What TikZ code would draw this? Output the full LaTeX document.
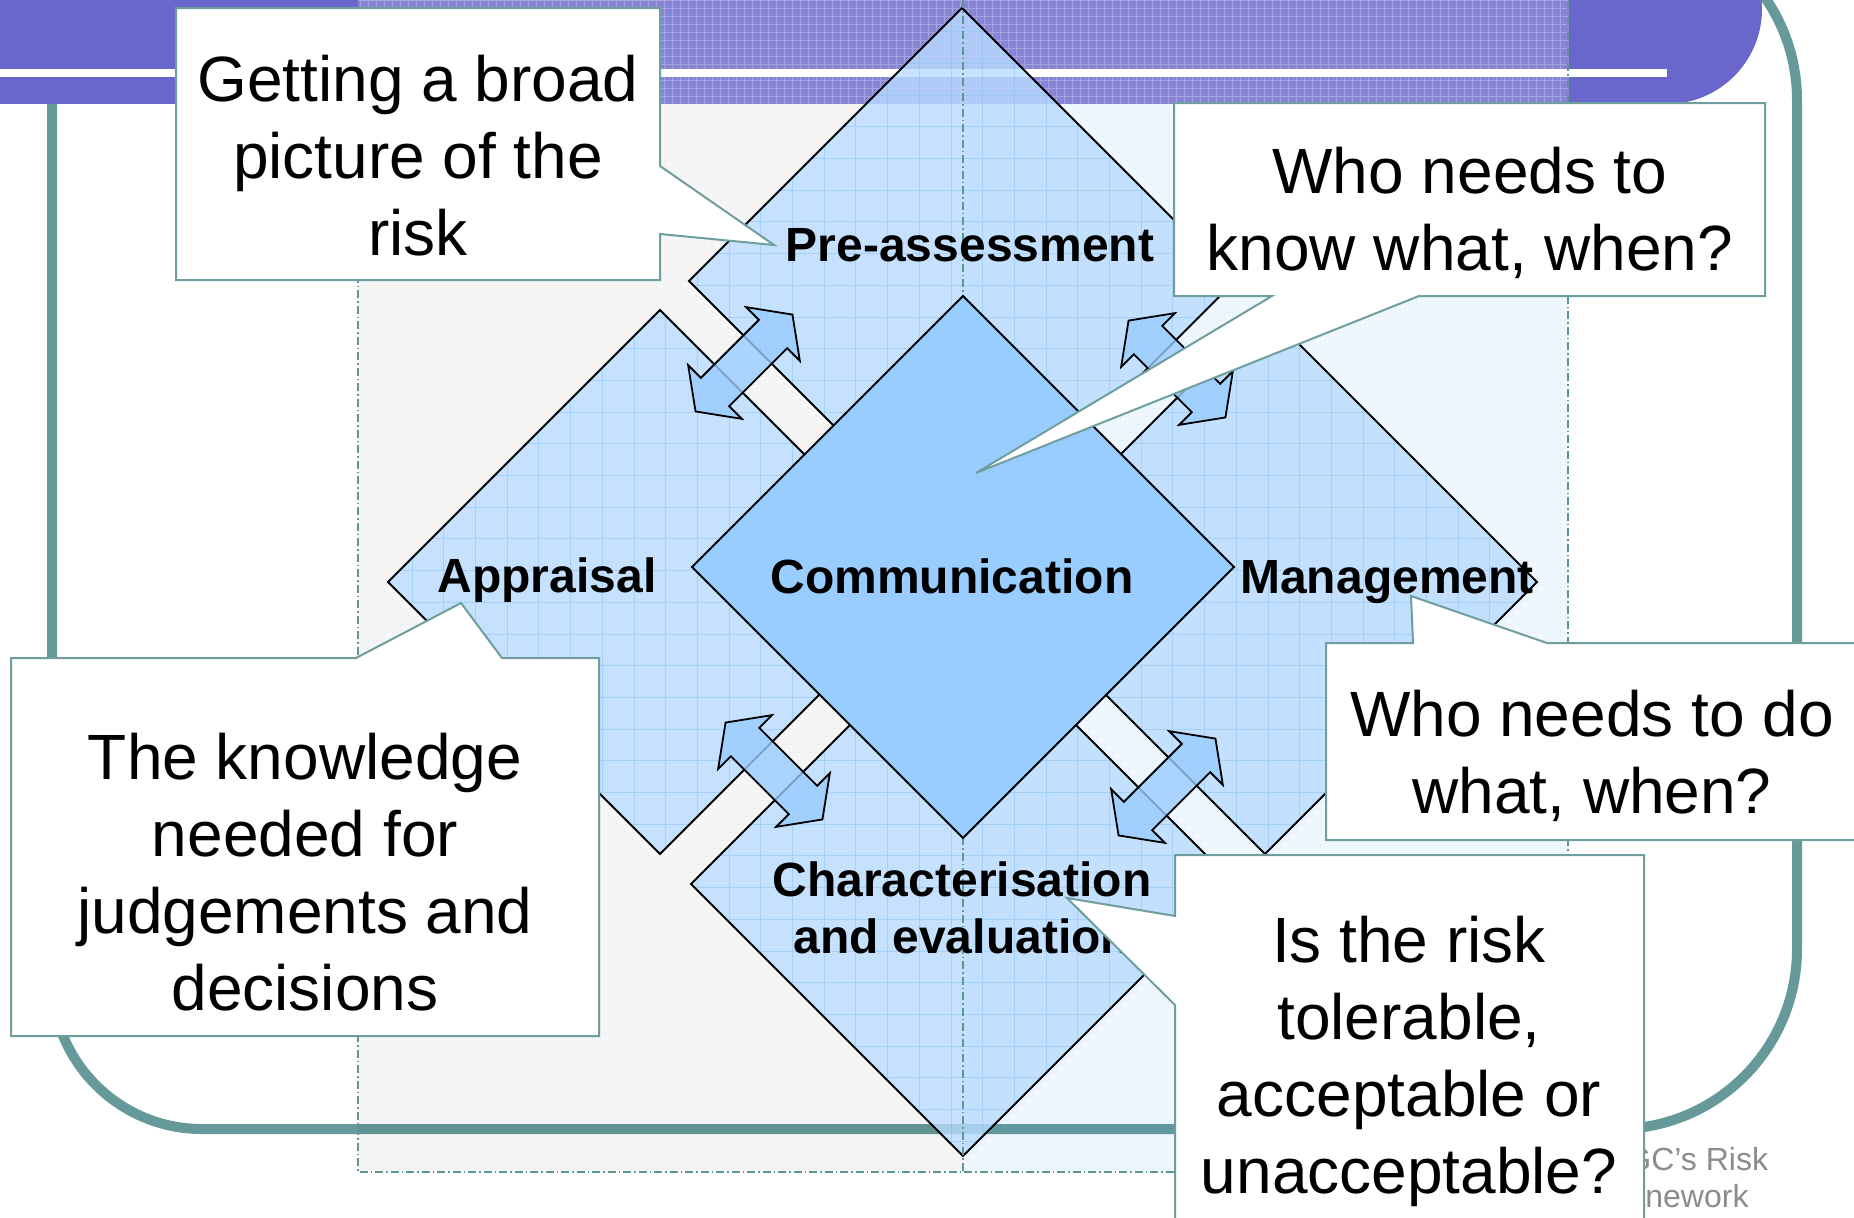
\documentclass[tikz,border=0pt]{standalone}
\usepackage{fontspec}
\setmainfont{Liberation Sans}
\definecolor{purp}{HTML}{6967CB}
\definecolor{frameteal}{HTML}{669999}
\definecolor{cborder}{HTML}{6E9E9E}
\definecolor{dblue}{HTML}{B9DCFF}
\definecolor{cblue}{HTML}{99CCFF}
\definecolor{gridblue}{HTML}{7FBDF5}
\definecolor{dashc}{HTML}{5E9696}
\definecolor{tintblue}{HTML}{3399FF}
\definecolor{graytext}{HTML}{8C8C8C}
\newcommand\blockarrow[2]{%
  \path[arrowsty, shift={(#1)}, rotate=#2]
    (68.5,0) -- (41,38) -- (41,20) -- (-41,20) -- (-41,38) -- (-68.5,0)
    -- (-41,-38) -- (-41,-20) -- (41,-20) -- (41,-38) -- cycle;}
\begin{document}
\begin{tikzpicture}[x=0.5pt,y=0.5pt,
  diamondsty/.style={fill=dblue, fill opacity=0.8},
  dedge/.style={draw=black, line width=1pt, line join=miter},
  dgrid/.style={draw=gridblue, draw opacity=0.45, line width=0.5pt},
  dashsty/.style={draw=dashc, line width=0.6pt, dash pattern=on 4pt off 1.5pt on 0.75pt off 1.5pt},
  arrowsty/.style={fill=cblue, fill opacity=0.8, draw=black, line width=0.9pt, line join=miter},
  callbox/.style={fill=white, draw=cborder, line width=1pt, line join=miter},
  calltxt/.style={inner sep=0pt, align=center, anchor=north, font=\fontsize{32}{38.4}\selectfont},
  lbl/.style={inner sep=0pt, font=\fontsize{24}{28.7}\selectfont\bfseries},
  graytxt/.style={inner sep=0pt, text=graytext, anchor=base west, font=\fontsize{16}{18}\selectfont}
]
\useasboundingbox (0,0) rectangle (1854,-1217);
\clip (0,0) rectangle (1854,-1217);
\fill[white] (0,0) rectangle (1854,-1217);

% teal rounded frame
\draw[frameteal, line width=5pt] (52,60) -- (52,-979)
  arc[start angle=180, end angle=270, radius=75pt] -- (1617,-1129)
  arc[start angle=270, end angle=360, radius=90pt] -- (1797,-100)
  arc[start angle=0, end angle=90, radius=90pt] -- (52,80);

% purple title band
\fill[purp] (0,5) rectangle (1667,-104);
\fill[purp] (1667,-9) circle[radius=47.5pt];
\fill[white] (0,-69) rectangle (1667,-77);

% light grid region
\fill[white, opacity=0.2] (358,5) rectangle (1568,-104);
\draw[white, opacity=0.25, line width=0.3pt, step=8] (358,0) grid (1568,-104);
\fill[black, opacity=0.035] (358,-104) rectangle (963,-1172);
\fill[tintblue, opacity=0.08] (963,-104) rectangle (1568,-1172);
\draw[black, opacity=0.02, line width=0.3pt, step=8] (358,-104) grid (1568,-1172);

% outer diamonds
\path[diamondsty] (962,-8) -- (1235,-281) -- (962,-554) -- (689,-281) -- cycle;
\path[diamondsty] (660,-310) -- (932,-582) -- (660,-854) -- (388,-582) -- cycle;
\path[diamondsty] (1265,-310) -- (1537,-582) -- (1265,-854) -- (993,-582) -- cycle;
\path[diamondsty] (963,-612) -- (1235,-884) -- (963,-1156) -- (691,-884) -- cycle;
\begin{scope}
  \clip (962,-8) -- (1235,-281) -- (962,-554) -- (689,-281) -- cycle;
  \draw[dgrid, step=31.7] (358,0) grid (1568,-1172);
\end{scope}
\begin{scope}
  \clip (660,-310) -- (932,-582) -- (660,-854) -- (388,-582) -- cycle;
  \draw[dgrid, step=31.7] (358,0) grid (1568,-1172);
\end{scope}
\begin{scope}
  \clip (1265,-310) -- (1537,-582) -- (1265,-854) -- (993,-582) -- cycle;
  \draw[dgrid, step=31.7] (358,0) grid (1568,-1172);
\end{scope}
\begin{scope}
  \clip (963,-612) -- (1235,-884) -- (963,-1156) -- (691,-884) -- cycle;
  \draw[dgrid, step=31.7] (358,0) grid (1568,-1172);
\end{scope}
\draw[dedge] (962,-8) -- (1235,-281) -- (962,-554) -- (689,-281) -- cycle;
\draw[dedge] (660,-310) -- (932,-582) -- (660,-854) -- (388,-582) -- cycle;
\draw[dedge] (1265,-310) -- (1537,-582) -- (1265,-854) -- (993,-582) -- cycle;
\draw[dedge] (963,-612) -- (1235,-884) -- (963,-1156) -- (691,-884) -- cycle;

% dash-dot guide lines
\draw[dashsty] (358,-104) -- (358,-1172) -- (1568,-1172) -- (1568,0);
\draw[dashsty] (963,0) -- (963,-1172);

% central diamond
\filldraw[fill=cblue, dedge] (963,-296) -- (1234,-567) -- (963,-838) -- (692,-567) -- cycle;

% double block arrows
\blockarrow{744,-363}{45}
\blockarrow{1177,-369}{-45}
\blockarrow{774,-771}{-45}
\blockarrow{1167,-787}{45}

% stage labels
\node[lbl, anchor=base] (lpre) at (970,-261) {Pre-assessment};
\node[lbl, anchor=base] (lapp) at (547,-592) {Appraisal};
\node[lbl, anchor=base] (lcom) at (952,-593) {Communication};
\node[lbl, anchor=base] (lman) at (1387,-593) {Management};
\node[lbl, anchor=north, align=center] (lchar) at (962,-861) {Characterisation\\and evaluation};

% faded source text
\node[graytxt] (src1) at (1626,-1170) {GC’s Risk};
\node[graytxt] (src2) at (1645,-1207) {nework};

% callouts
\path[callbox] (176,-8) -- (660,-8) -- (660,-166) -- (774,-245) -- (660,-234) -- (660,-280) -- (176,-280) -- cycle;
\node[calltxt] (t1) at (418,-55) {Getting a broad\\picture of the\\risk};

\path[callbox] (1174,-103) -- (1765,-103) -- (1765,-296) -- (1419,-296) -- (976,-473) -- (1272,-296) -- (1174,-296) -- cycle;
\node[calltxt] (t2) at (1470,-147) {Who needs to\\know what, when?};

\path[callbox] (11,-658) -- (356,-658) -- (461,-603) -- (502,-658) -- (599,-658) -- (599,-1036) -- (11,-1036) -- cycle;
\node[calltxt] (t3) at (305,-733) {The knowledge\\needed for\\judgements and\\decisions};

\path[callbox] (1326,-643) -- (1413,-643) -- (1411,-596) -- (1547,-643) -- (1860,-643) -- (1860,-840) -- (1326,-840) -- cycle;
\node[calltxt] (t4) at (1592,-690) {Who needs to do\\what, when?};

\path[callbox] (1175,-855) -- (1644,-855) -- (1644,-1230) -- (1175,-1230) -- (1175,-1005) -- (1067,-898) -- (1175,-916) -- cycle;
\node[calltxt] (t5) at (1409,-916) {Is the risk\\tolerable,\\acceptable or\\unacceptable?};
\end{tikzpicture}
\end{document}
